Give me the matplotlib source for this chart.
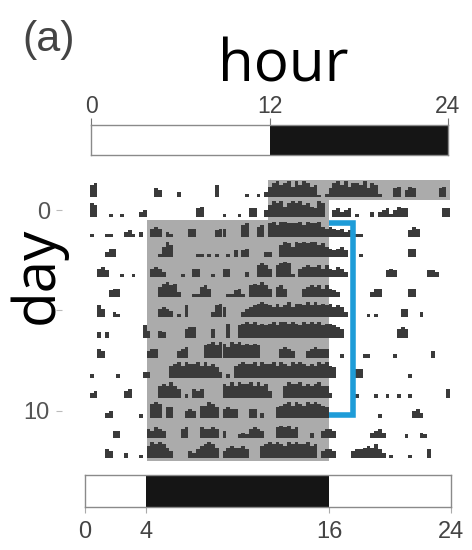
import matplotlib
matplotlib.use("Agg")
import matplotlib.pyplot as plt
from matplotlib.patches import Rectangle
import numpy as np

# ---------------------------------------------------------------------------
# Data
# ---------------------------------------------------------------------------
days = list(range(-1, 13))

# Activity per day in 15-min bins (4 per hour, 24 hours); digits are counts 0-9
activity_rows = [
    # day -1
    "0780 0000 0000 0000 0054 0000 3000 0000 0070 0000 0020 0203 6897 8969 7986 7102 5897 9688 7958 7200 0560 4650 0000 0560",
    # day 0
    "0870 0020 0200 0034 0000 0000 0000 0560 0000 2000 2005 5004 7989 6898 9786 5980 0453 4502 0003 0345 2465 5000 0000 0055",
    # day 1
    "0200 0220 0034 2030 0565 0320 0005 5000 0045 5000 0780 0670 8979 9888 9798 8965 6545 3402 2000 0000 0000 0465 0000 0000",
    # day 2
    "0000 0355 0000 0000 0002 6970 0000 0220 2020 0204 0450 0003 3007 9869 8989 9786 5456 4020 2000 0000 0000 0550 0000 0000",
    # day 3
    "0005 6400 0200 2000 0565 3000 0200 5500 0200 5500 0030 0787 5078 9820 5676 6757 5465 3000 0000 0004 5400 0000 0044 3000",
    # day 4
    "0000 0045 5000 0000 0006 8978 3000 2267 5000 0224 5207 8797 5067 5000 0567 6757 5430 0000 0003 5500 0000 0550 0000 0000",
    # day 5
    "0007 5003 2000 0000 0005 6540 2070 0000 0378 6000 0356 7898 7686 7968 8797 9787 8676 3000 0020 2000 0005 5000 3000 0000",
    # day 6
    "0003 0300 0000 0007 4004 3000 0056 6000 0500 0800 7898 9787 8979 9898 7989 8978 8765 0020 0000 0000 0056 5000 0000 0000",
    # day 7
    "0005 4000 0000 0000 4550 0000 4560 0007 8979 8698 9787 8700 0005 6540 0045 6555 0002 0000 0220 0000 0200 0000 0004 0000",
    # day 8
    "0200 0000 2000 0003 3000 0078 9798 8979 7863 0207 8988 9798 8979 8798 9878 7989 7600 0005 5000 0000 0000 0200 0000 0000",
    # day 9
    "0340 0000 0045 0000 0007 8797 5020 5450 0000 8797 9889 7978 4000 7988 9787 8977 3000 0002 0000 2002 0020 0200 0000 0005",
    # day 10
    "0000 0340 0000 0020 0898 0660 0045 4077 9860 5655 0005 5030 0067 8979 8798 9876 0000 0000 0000 0200 0000 0045 3000 0000",
    # day 11
    "0000 0004 4000 0000 5465 4000 0560 0065 5650 4000 2325 6540 0067 6756 0003 0045 5400 0000 0003 4530 0000 2000 3200 0000",
    # day 12
    "0000 0540 0030 0020 7989 8640 0004 3578 9860 4676 6750 0078 9898 7989 8897 8045 5400 0045 5676 8530 2000 0200 0050 0000",
]
bins_per_hour = 4

# Dark periods shaded on the actogram: (start hour, end hour, first day, last day)
shade_start = [12, 12, 4]
shade_end = [24, 16, 16]
shade_first_day = [-1, 0, 1]
shade_last_day = [-1, 0, 12]

# Light/dark schedules shown in the bars above and below
before_dark = (12, 24)
after_dark = (4, 16)
before_ticks = [0, 12, 24]
after_ticks = [0, 4, 16, 24]

# Onset bracket (hour, day)
bracket_hours = [16.0, 17.6, 17.6, 16.0]
bracket_days = [0.65, 0.65, 10.2, 10.2]

day_ticks = [0, 5, 10]
day_ticklabels = ["0", "", "10"]

# ---------------------------------------------------------------------------
# Figure
# ---------------------------------------------------------------------------
W, H = 472, 550
fig = plt.figure(figsize=(W / 100, H / 100), dpi=100)
fig.patch.set_facecolor("white")

def px_axes(x0, y0, x1, y1):
    return fig.add_axes([x0 / W, 1 - y1 / H, (x1 - x0) / W, (y1 - y0) / H])

shade_color = "#ababab"
act_color = "#3a3a3a"

# Actogram
ax = px_axes(86, 180, 450, 461)
ax.set_xlim(0, 24)
ax.set_ylim(12.5, -1.5)
for s, e, d0, d1 in zip(shade_start, shade_end, shade_first_day, shade_last_day):
    ax.add_patch(Rectangle((s, d0 - 0.5), e - s, d1 - d0 + 1,
                           facecolor=shade_color, edgecolor="none", zorder=1))

base_off = 0.35
max_h = 0.78
for day, row in zip(days, activity_rows):
    levels = np.array([int(c) for c in row.replace(" ", "")], dtype=float)
    x = np.arange(levels.size) / bins_per_hour
    m = levels > 0
    ax.bar(x[m], -levels[m] / 9 * max_h, width=1 / bins_per_hour,
           bottom=day + base_off, align="edge", color=act_color,
           linewidth=0, zorder=2)

ax.plot(bracket_hours, bracket_days, color="#1e9cd8", lw=4.0,
        solid_joinstyle="miter", solid_capstyle="butt", zorder=3)

for sp in ax.spines.values():
    sp.set_color("none")
ax.spines["left"].set_position(("outward", 17))
ax.set_xticks([])
ax.set_yticks(day_ticks)
ax.set_yticklabels(day_ticklabels)
ax.tick_params(axis="y", length=4, width=0.8, color="#bbbbbb", pad=5,
               labelsize=17, labelcolor="#555555")
for lab in ax.get_yticklabels():
    lab.set_family("Liberation Sans")

# Light/dark bar before the shift (top)
axt = px_axes(91, 125, 448, 155)
axt.set_xlim(0, 24)
axt.set_ylim(0, 1)
axt.add_patch(Rectangle((0, 0), 24, 1, facecolor="white", edgecolor="none"))
axt.add_patch(Rectangle((before_dark[0], 0), before_dark[1] - before_dark[0], 1,
                        facecolor="#151515", edgecolor="none"))
for sp in axt.spines.values():
    sp.set_color("#8a8a8a")
    sp.set_linewidth(1.0)
axt.set_yticks([])
axt.xaxis.tick_top()
axt.set_xticks(before_ticks)
axt.set_xticklabels([str(t) for t in before_ticks])
axt.tick_params(axis="x", length=5, width=0.8, color="#777777", pad=0,
                labelsize=16.5, labelcolor="#444444")
for lab in axt.get_xticklabels():
    lab.set_family("Liberation Sans")

# Light/dark bar after the shift (bottom)
axb = px_axes(85, 475, 451, 507)
axb.set_xlim(0, 24)
axb.set_ylim(0, 1)
axb.add_patch(Rectangle((after_dark[0], 0), after_dark[1] - after_dark[0], 1,
                        facecolor="#151515", edgecolor="none"))
for sp in axb.spines.values():
    sp.set_color("#8a8a8a")
    sp.set_linewidth(1.0)
axb.set_yticks([])
axb.set_xticks(after_ticks)
axb.set_xticklabels([str(t) for t in after_ticks])
axb.tick_params(axis="x", length=4, width=0.8, color="#aaaaaa", pad=6,
                labelsize=17, labelcolor="#444444")
for lab in axb.get_xticklabels():
    lab.set_family("Liberation Sans")

# Titles
fig.text(22 / W, 1 - 51 / H, "(a)", family="Liberation Sans", fontsize=31,
         color="#444444", ha="left", va="baseline")
fig.text(283 / W, 1 - 82 / H, "hour", family="Open Sans", fontsize=42,
         color="black", ha="center", va="baseline")
fig.text(38 / W, 1 - 275 / H, "day", family="Open Sans", fontsize=42,
         color="black", rotation=90, ha="center", va="center")

fig.savefig("out.png", dpi=100)
